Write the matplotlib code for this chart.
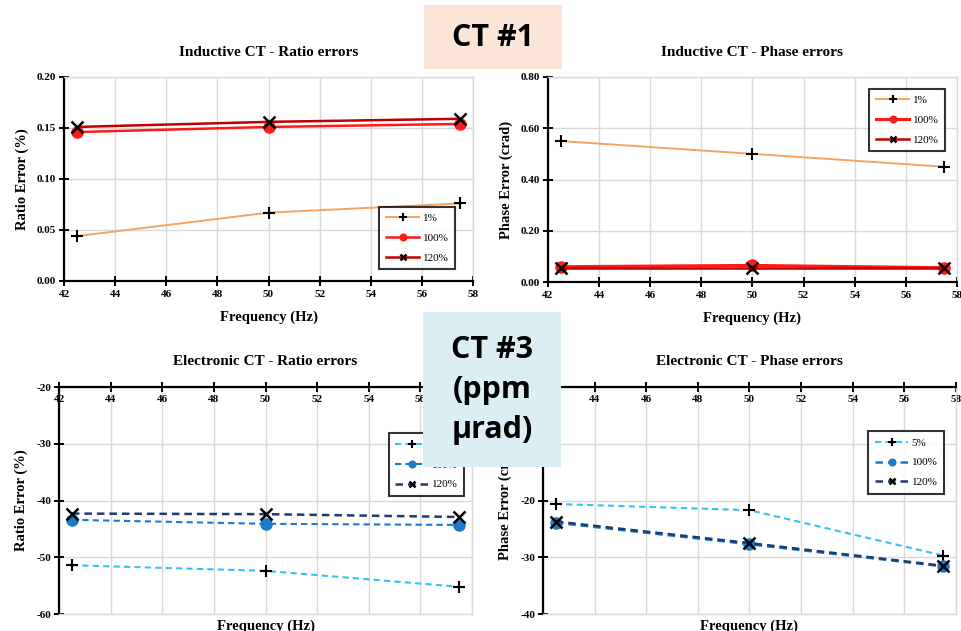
import numpy as np
import matplotlib
matplotlib.use('Agg')
import matplotlib.pyplot as plt
from matplotlib.patches import Rectangle

plt.rcParams['axes.unicode_minus'] = False

# frequency points (Hz)
freq = [42.5, 50, 57.5]

# inductive CT - ratio errors (%)
ind_ratio_1 = [0.044, 0.067, 0.076]
ind_ratio_100 = [0.146, 0.151, 0.154]
ind_ratio_120 = [0.151, 0.156, 0.159]

# inductive CT - phase errors (crad)
ind_phase_1 = [0.55, 0.50, 0.45]
ind_phase_100 = [0.060, 0.065, 0.056]
ind_phase_120 = [0.055, 0.055, 0.055]

# electronic CT - ratio errors
el_ratio_5 = [-51.4, -52.4, -55.2]
el_ratio_100 = [-43.4, -44.1, -44.3]
el_ratio_120 = [-42.3, -42.4, -42.9]

# electronic CT - phase errors
el_phase_5 = [-20.6, -21.7, -29.7]
el_phase_100 = [-23.9, -27.7, -31.6]
el_phase_120 = [-23.7, -27.5, -31.5]

ind_labels = ['1%', '100%', '120%']
el_labels = ['5%', '100%', '120%']
xticks = list(range(42, 59, 2))

serif = 'Liberation Serif'
grid_c = '#D9D9D9'
orange = '#F4A460'
red = '#FF1A1A'
dred = '#C00000'
lblue = '#33C3F5'
mblue = '#1B7AC9'
navy = '#1F3A6E'

fig = plt.figure(figsize=(9.61, 6.31), dpi=100)


def style_axes(ax, xaxis_top=False):
	ax.set_xlim(42, 58)
	ax.set_xticks(xticks)
	ax.grid(True, color=grid_c, lw=1)
	ax.set_axisbelow(True)
	for s in ['left', 'right', 'top', 'bottom']:
		ax.spines[s].set_color(grid_c)
		ax.spines[s].set_linewidth(1)
	ax.spines['left'].set_color('black')
	ax.spines['left'].set_linewidth(1.6)
	if xaxis_top:
		ax.spines['top'].set_color('black')
		ax.spines['top'].set_linewidth(1.6)
		ax.tick_params(axis='x', top=True, bottom=False, labeltop=True, labelbottom=False,
			direction='inout', length=7, width=1.4, pad=-16)
	else:
		ax.spines['bottom'].set_color('black')
		ax.spines['bottom'].set_linewidth(1.6)
		ax.tick_params(axis='x', direction='inout', length=7, width=1.4, pad=3)
	ax.tick_params(axis='y', direction='inout', length=7, width=1.4, pad=2)
	for lab in ax.get_xticklabels() + ax.get_yticklabels():
		lab.set_fontfamily(serif)
		lab.set_fontweight('bold')
		lab.set_fontsize(8)


def add_legend(ax, loc, anchor):
	leg = ax.legend(loc=loc, bbox_to_anchor=anchor, prop={'family': serif, 'size': 8},
		frameon=True, fancybox=False, edgecolor='black', handlelength=3.0,
		labelspacing=0.9, borderpad=0.6, handletextpad=0.3, markerscale=0.6)
	leg.get_frame().set_linewidth(1.5)


# ---- top left
ax1 = fig.add_axes([0.0666, 0.5547, 0.4256, 0.3233])
ax1.plot(freq, ind_ratio_1, color=orange, lw=1.4, marker='+', ms=9, mec='black', mew=1.5, label=ind_labels[0])
ax1.plot(freq, ind_ratio_100, color=red, lw=1.8, marker='o', ms=8, mec=red, mfc=red, label=ind_labels[1])
ax1.plot(freq, ind_ratio_120, color=dred, lw=1.8, marker='x', ms=8, mec='black', mew=1.8, label=ind_labels[2])
ax1.set_ylim(0, 0.2)
ax1.set_yticks([0, 0.05, 0.10, 0.15, 0.20])
ax1.set_yticklabels(['0.00', '0.05', '0.10', '0.15', '0.20'])
style_axes(ax1)
ax1.set_title('Inductive CT - Ratio errors', family=serif, weight='bold', size=11, pad=15)
ax1.set_xlabel('Frequency (Hz)', family=serif, weight='bold', size=10.5, labelpad=8)
ax1.set_ylabel('Ratio Error (%)', family=serif, weight='bold', size=10.5, labelpad=6)
add_legend(ax1, 'lower right', (0.97, 0.03))

# ---- top right
ax2 = fig.add_axes([0.5702, 0.553, 0.4256, 0.325])
ax2.plot(freq, ind_phase_1, color=orange, lw=1.4, marker='+', ms=9, mec='black', mew=1.5, label=ind_labels[0])
ax2.plot(freq, ind_phase_100, color=red, lw=2.2, marker='o', ms=8, mec=red, mfc=red, label=ind_labels[1])
ax2.plot(freq, ind_phase_120, color=dred, lw=1.8, marker='x', ms=8, mec='black', mew=1.8, label=ind_labels[2])
ax2.set_ylim(0, 0.8)
ax2.set_yticks([0, 0.2, 0.4, 0.6, 0.8])
ax2.set_yticklabels(['0.00', '0.20', '0.40', '0.60', '0.80'])
style_axes(ax2)
ax2.set_title('Inductive CT - Phase errors', family=serif, weight='bold', size=11, pad=15)
ax2.set_xlabel('Frequency (Hz)', family=serif, weight='bold', size=10.5, labelpad=8)
ax2.set_ylabel('Phase Error (crad)', family=serif, weight='bold', size=10.5, labelpad=6)
add_legend(ax2, 'upper right', (0.985, 0.97))

# ---- bottom left
ax3 = fig.add_axes([0.0614, 0.0269, 0.4298, 0.3597])
ax3.plot(freq, el_ratio_5, color=lblue, lw=1.5, ls=(0, (3, 2)), marker='+', ms=9, mec='black', mew=1.5, label=el_labels[0])
ax3.plot(freq, el_ratio_100, color=mblue, lw=1.5, ls=(0, (3, 2)), marker='o', ms=8, mec=mblue, mfc=mblue, label=el_labels[1])
ax3.plot(freq, el_ratio_120, color=navy, lw=1.8, ls=(0, (3, 2)), marker='x', ms=8, mec='black', mew=1.8, label=el_labels[2])
ax3.set_ylim(-60, -20)
ax3.set_yticks([-60, -50, -40, -30, -20])
style_axes(ax3, xaxis_top=True)
ax3.set_title('Electronic CT - Ratio errors', family=serif, weight='bold', size=11, pad=16)
ax3.set_xlabel('Frequency (Hz)', family=serif, weight='bold', size=10.5, labelpad=4)
ax3.set_ylabel('Ratio Error (%)', family=serif, weight='bold', size=10.5, labelpad=6)
add_legend(ax3, 'upper right', (0.995, 0.82))

# ---- bottom right
ax4 = fig.add_axes([0.565, 0.0269, 0.4298, 0.3597])
ax4.plot(freq, el_phase_5, color=lblue, lw=1.5, ls=(0, (3, 2)), marker='+', ms=9, mec='black', mew=1.5, label=el_labels[0])
ax4.plot(freq, el_phase_100, color=mblue, lw=1.8, ls=(0, (3, 2)), marker='o', ms=8, mec=mblue, mfc=mblue, label=el_labels[1])
ax4.plot(freq, el_phase_120, color=navy, lw=1.8, ls=(0, (3, 2)), marker='x', ms=8, mec='black', mew=1.8, label=el_labels[2])
ax4.set_ylim(-40, 0)
ax4.set_yticks([-40, -30, -20, -10, 0])
style_axes(ax4, xaxis_top=True)
ax4.set_title('Electronic CT - Phase errors', family=serif, weight='bold', size=11, pad=16)
ax4.set_xlabel('Frequency (Hz)', family=serif, weight='bold', size=10.5, labelpad=4)
ax4.set_ylabel('Phase Error (crad)', family=serif, weight='bold', size=10.5, labelpad=6)
add_legend(ax4, 'upper right', (0.985, 0.83))

# ---- overlay label boxes
W, H = 961.0, 631.0
fig.patches.append(Rectangle((424 / W, 1 - 69 / H), 138 / W, 64 / H, transform=fig.transFigure,
	facecolor='#FBE5D6', edgecolor='none', zorder=10))
fig.text(493 / W, 1 - 38 / H, 'CT #1', ha='center', va='center', family='Open Sans',
	weight='bold', size=22, zorder=11)
fig.patches.append(Rectangle((423 / W, 1 - 467 / H), 138 / W, 155 / H, transform=fig.transFigure,
	facecolor='#DAEEF3', edgecolor='none', zorder=10))
fig.text(492 / W, 1 - 390 / H, 'CT #3\n(ppm\nµrad)', ha='center', va='center', family='Open Sans',
	weight='bold', size=22, linespacing=1.45, zorder=11)

plt.savefig('out.png', dpi=100)
